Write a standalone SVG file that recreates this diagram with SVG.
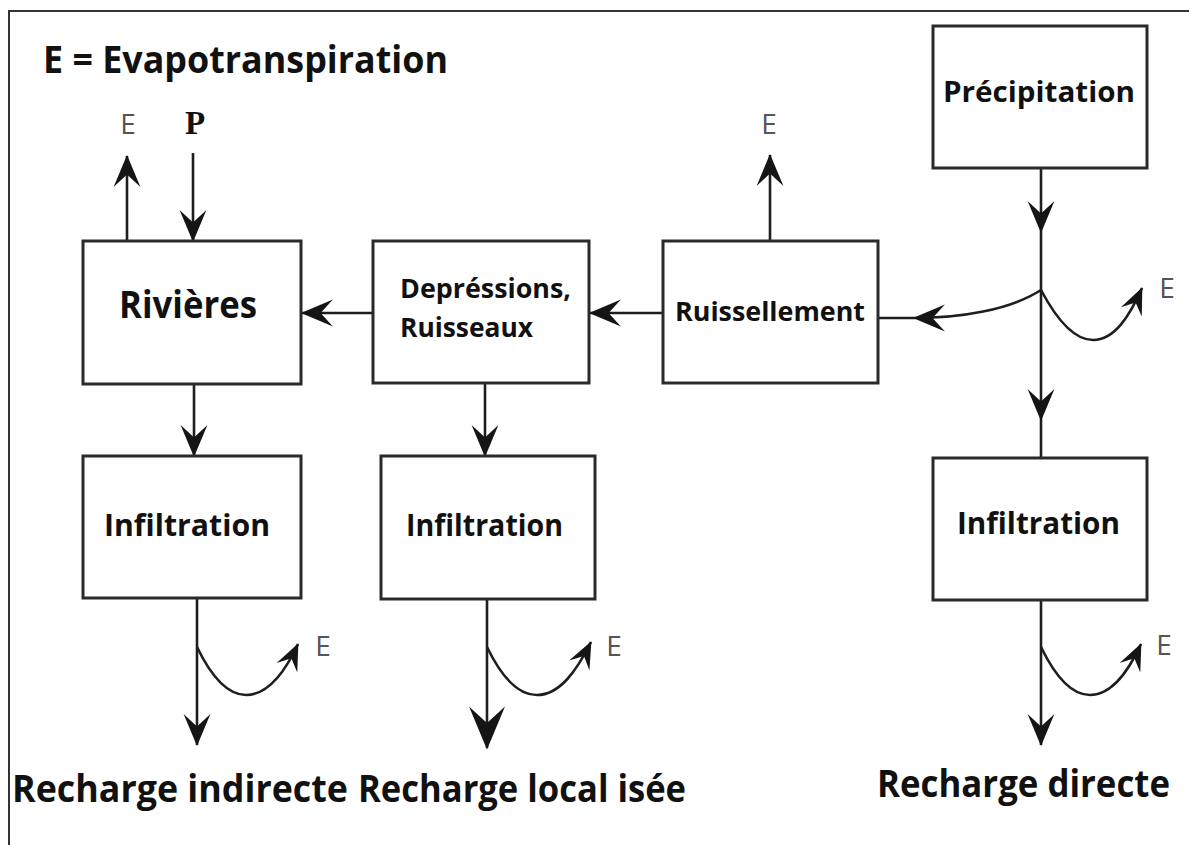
<svg xmlns="http://www.w3.org/2000/svg" width="1189" height="845" viewBox="0 0 1189 845">
<style>
.box{fill:#fff;stroke:#2a2a2a;stroke-width:3}
.ln{fill:none;stroke:#1e1e1e;stroke-width:2.6}
.t{font-family:"Open Sans","Noto Sans","Liberation Sans",sans-serif;font-weight:700;fill:#111}
.e{font-family:"Open Sans","Liberation Sans",sans-serif;font-size:28px;fill:#555}
</style>
<defs>
<marker id="ah" viewBox="0 0 32 26" refX="31" refY="13" markerWidth="33" markerHeight="28" markerUnits="userSpaceOnUse" orient="auto"><path d="M32,13 L1,0 L13,13 L1,26 Z" fill="#151515"/></marker>
<marker id="ahl" viewBox="0 0 32 26" refX="31" refY="13" markerWidth="46" markerHeight="36" markerUnits="userSpaceOnUse" orient="auto"><path d="M32,13 L1,0 L13,13 L1,26 Z" fill="#151515"/></marker>
<marker id="ahs" viewBox="0 0 32 26" refX="31" refY="13" markerWidth="28" markerHeight="24" markerUnits="userSpaceOnUse" orient="auto"><path d="M32,13 L1,0 L13,13 L1,26 Z" fill="#151515"/></marker>
</defs>
<rect width="1189" height="845" fill="#fff"/>
<polyline points="9,845 9,11 1189,11" fill="none" stroke="#333" stroke-width="2"/>
<text class="t" x="43" y="73" font-size="38" textLength="405" lengthAdjust="spacingAndGlyphs">E = Evapotranspiration</text>

<g id="connectors">
<path class="ln" d="M127,241 L127,156" marker-end="url(#ah)"/>
<path class="ln" d="M193,153 L193,241" marker-end="url(#ah)"/>
<path class="ln" d="M194,384 L194,456" marker-end="url(#ah)"/>
<path class="ln" d="M373,313 L302,313" marker-end="url(#ah)"/>
<path class="ln" d="M663,313 L590,313" marker-end="url(#ah)"/>
<path class="ln" d="M485,383 L485,456" marker-end="url(#ah)"/>
<path class="ln" d="M770,242 L770,155" marker-end="url(#ah)"/>
<path class="ln" d="M1041,168 L1041,232" marker-end="url(#ah)"/>
<path class="ln" d="M1041,232 L1041,420" marker-end="url(#ah)"/>
<path class="ln" d="M1041,420 L1041,458"/>
<path class="ln" d="M1041,290 C1010,310 960,318 914,318" marker-end="url(#ah)"/>
<path class="ln" d="M914,318 L878,318"/>
<path class="ln" d="M1041,290 C1058,322 1075,340 1093,340 C1115,340 1130,315 1142,288" marker-end="url(#ahs)"/>
<path class="ln" d="M197,598 L197,745" marker-end="url(#ah)"/>
<path class="ln" d="M197,647 C212,678 228,695 246,695 C268,695 285,672 298,644" marker-end="url(#ahs)"/>
<path class="ln" d="M487,599 L487,748" marker-end="url(#ahl)"/>
<path class="ln" d="M487,647 C502,678 518,695 537,695 C560,695 577,670 591,642" marker-end="url(#ahs)"/>
<path class="ln" d="M1041,600 L1041,745" marker-end="url(#ah)"/>
<path class="ln" d="M1041,647 C1056,678 1072,695 1090,695 C1112,695 1128,672 1141,644" marker-end="url(#ahs)"/>
</g>

<g id="labels-e">
<text class="e" x="128" y="134" text-anchor="middle">E</text>
<text x="195" y="134" text-anchor="middle" font-family="Liberation Serif,serif" font-weight="700" font-size="33" fill="#111">P</text>
<text class="e" x="769" y="134" text-anchor="middle">E</text>
<text class="e" x="1167" y="298" text-anchor="middle">E</text>
<text class="e" x="323" y="656" text-anchor="middle">E</text>
<text class="e" x="614" y="656" text-anchor="middle">E</text>
<text class="e" x="1164" y="655" text-anchor="middle">E</text>
</g>

<g id="n-rivieres"><rect class="box" x="83" y="241" width="218" height="143"/><text class="t" x="119" y="318" font-size="37" textLength="138" lengthAdjust="spacingAndGlyphs">Rivières</text></g>
<g id="n-depressions"><rect class="box" x="373" y="241" width="216" height="142"/><text class="t" x="400" y="298" font-size="26" textLength="171" lengthAdjust="spacingAndGlyphs">Depréssions,</text><text class="t" x="400" y="337" font-size="26" textLength="133" lengthAdjust="spacingAndGlyphs">Ruisseaux</text></g>
<g id="n-ruissellement"><rect class="box" x="663" y="241" width="215" height="142"/><text class="t" x="675" y="321" font-size="27" textLength="190" lengthAdjust="spacingAndGlyphs">Ruissellement</text></g>
<g id="n-precipitation"><rect class="box" x="933" y="26" width="214" height="142"/><text class="t" x="943" y="102" font-size="28" textLength="192" lengthAdjust="spacingAndGlyphs">Précipitation</text></g>
<g id="n-infiltration1"><rect class="box" x="83" y="456" width="218" height="142"/><text class="t" x="104" y="536" font-size="31" textLength="166" lengthAdjust="spacingAndGlyphs">Infiltration</text></g>
<g id="n-infiltration2"><rect class="box" x="381" y="456" width="214" height="143"/><text class="t" x="406" y="536" font-size="31" textLength="157" lengthAdjust="spacingAndGlyphs">Infiltration</text></g>
<g id="n-infiltration3"><rect class="box" x="933" y="458" width="214" height="142"/><text class="t" x="957" y="534" font-size="30" textLength="163" lengthAdjust="spacingAndGlyphs">Infiltration</text></g>

<g id="bottom-labels">
<text class="t" x="12" y="802" font-size="37" textLength="336" lengthAdjust="spacingAndGlyphs">Recharge indirecte</text>
<text class="t" x="358" y="802" font-size="37" textLength="328" lengthAdjust="spacingAndGlyphs">Recharge local isée</text>
<text class="t" x="877" y="797" font-size="37" textLength="293" lengthAdjust="spacingAndGlyphs">Recharge directe</text>
</g>
</svg>
